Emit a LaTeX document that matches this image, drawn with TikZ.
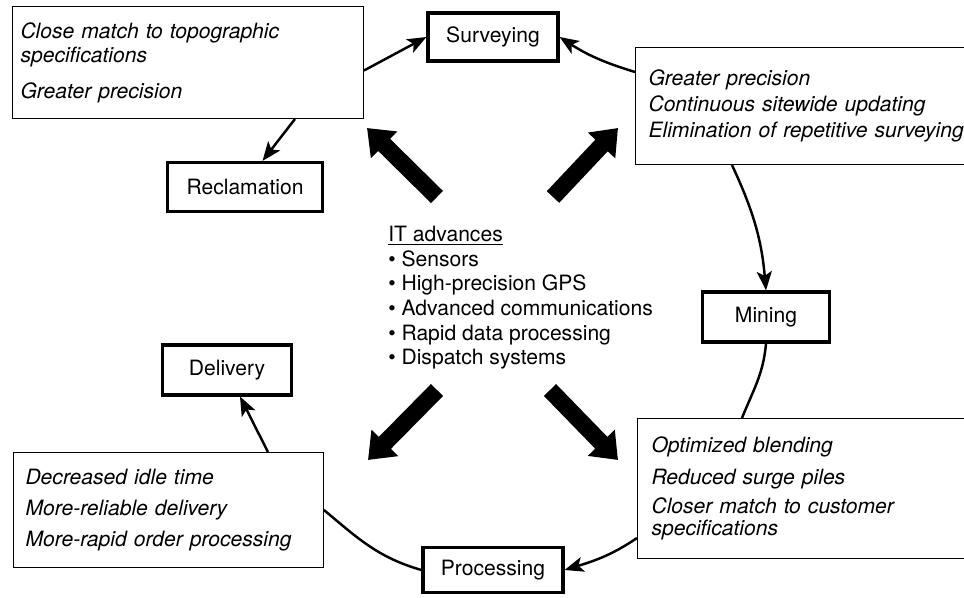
\documentclass[tikz,border=0pt]{standalone}
\usepackage{fontspec}
\setmainfont{TeX Gyre Heros}
\usetikzlibrary{arrows.meta}

\begin{document}
\begin{tikzpicture}[x=0.02cm,y=-0.02cm,
  stage/.style={draw, line width=1.8pt, inner sep=0pt, font=\fontsize{12}{14}\selectfont},
  gain/.style={draw, line width=0.6pt, anchor=north west, align=left, inner ysep=0pt, font=\fontsize{12}{13}\selectfont\itshape},
  flow/.style={line width=1.4pt, -{Stealth[length=3.8mm,width=3mm,inset=0.9mm]}},
  link/.style={line width=1.4pt},
  push/.style={line width=0.34cm, -{Triangle[length=0.48cm,width=0.72cm]}}]
\useasboundingbox (0,0) rectangle (964,598);
\clip (0,0) rectangle (964,598);

\node[stage, minimum width=2.6cm, minimum height=0.96cm] (survey) at (493,37) {Surveying};
\node[stage, minimum width=2.54cm, minimum height=1cm] (mining) at (766,317) {Mining};
\node[stage, minimum width=2.8cm, minimum height=0.9cm] (process) at (493,570) {Processing};
\node[stage, minimum width=2.58cm, minimum height=1cm] (delivery) at (227,370) {Delivery};
\node[stage, minimum width=3.1cm, minimum height=0.98cm] (reclaim) at (245,187) {Reclamation};

\node[gain, text width=6.7cm, inner xsep=0.16cm, minimum height=2.24cm] (gainS) at (12,6)
  {Close match to topographic\\[1pt] specifications\\[7pt] Greater precision};
\node[gain, text width=6.6cm, inner xsep=0.26cm, minimum height=2.34cm] (gainM) at (635,47)
  {Greater precision\\[2pt] Continuous sitewide updating\\[2pt] Elimination of repetitive surveying};
\node[gain, text width=6.6cm, inner xsep=0.28cm, minimum height=2.8cm] (gainP) at (637,418)
  {Optimized blending\\[5pt] Reduced surge piles\\[3.5pt] Closer match to customer\\ specifications};
\node[gain, text width=5.72cm, inner xsep=0.24cm, minimum height=2.3cm] (gainD) at (13,452)
  {Decreased idle time\\[4.5pt] More-reliable delivery\\[4.5pt] More-rapid order processing};

\node[anchor=north west, align=left, inner sep=0pt, font=\fontsize{12}{14}\selectfont] (tech) at (388,226)
  {\underline{IT advances}\\ \textbullet\ Sensors\\ \textbullet\ High-precision GPS\\
   \textbullet\ Advanced communications\\ \textbullet\ Rapid data processing\\ \textbullet\ Dispatch systems};

\coordinate (nwtail) at (437,197);
\coordinate (nwtip) at (367,128);
\coordinate (netail) at (553,197);
\coordinate (netip) at (618,128);
\coordinate (swtail) at (437,390);
\coordinate (swtip) at (368,460);
\coordinate (setail) at (550,390);
\coordinate (setip) at (618,460);
\draw[push] (nwtail) -- (nwtip);
\draw[push] (netail) -- (netip);
\draw[push] (swtail) -- (swtip);
\draw[push] (setail) -- (setip);

\draw[flow] ([yshift=-0.16cm]gainS.east) -- (survey.west);
\draw[flow] ([yshift=-0.5cm]gainM.north west) to[bend left=8] (survey.east);
\draw[flow] ([xshift=5.66cm]gainS.south west) -- ([xshift=0.35cm]reclaim.north);
\draw[flow] ([xshift=1.94cm]gainM.south west) to[out=-65,in=95] (mining.north);
\draw[link] (mining.south) to[out=-95,in=68] ([xshift=2.1cm]gainP.north west);
\draw[flow] ([yshift=0.42cm]gainP.south west) to[out=-146,in=17] (process.east);
\draw[link] (process.west) to[out=164,in=-40] (gainD.east);
\draw[flow] ([xshift=5.1cm]gainD.north west) -- ([xshift=0.26cm]delivery.south);
\end{tikzpicture}
\end{document}
